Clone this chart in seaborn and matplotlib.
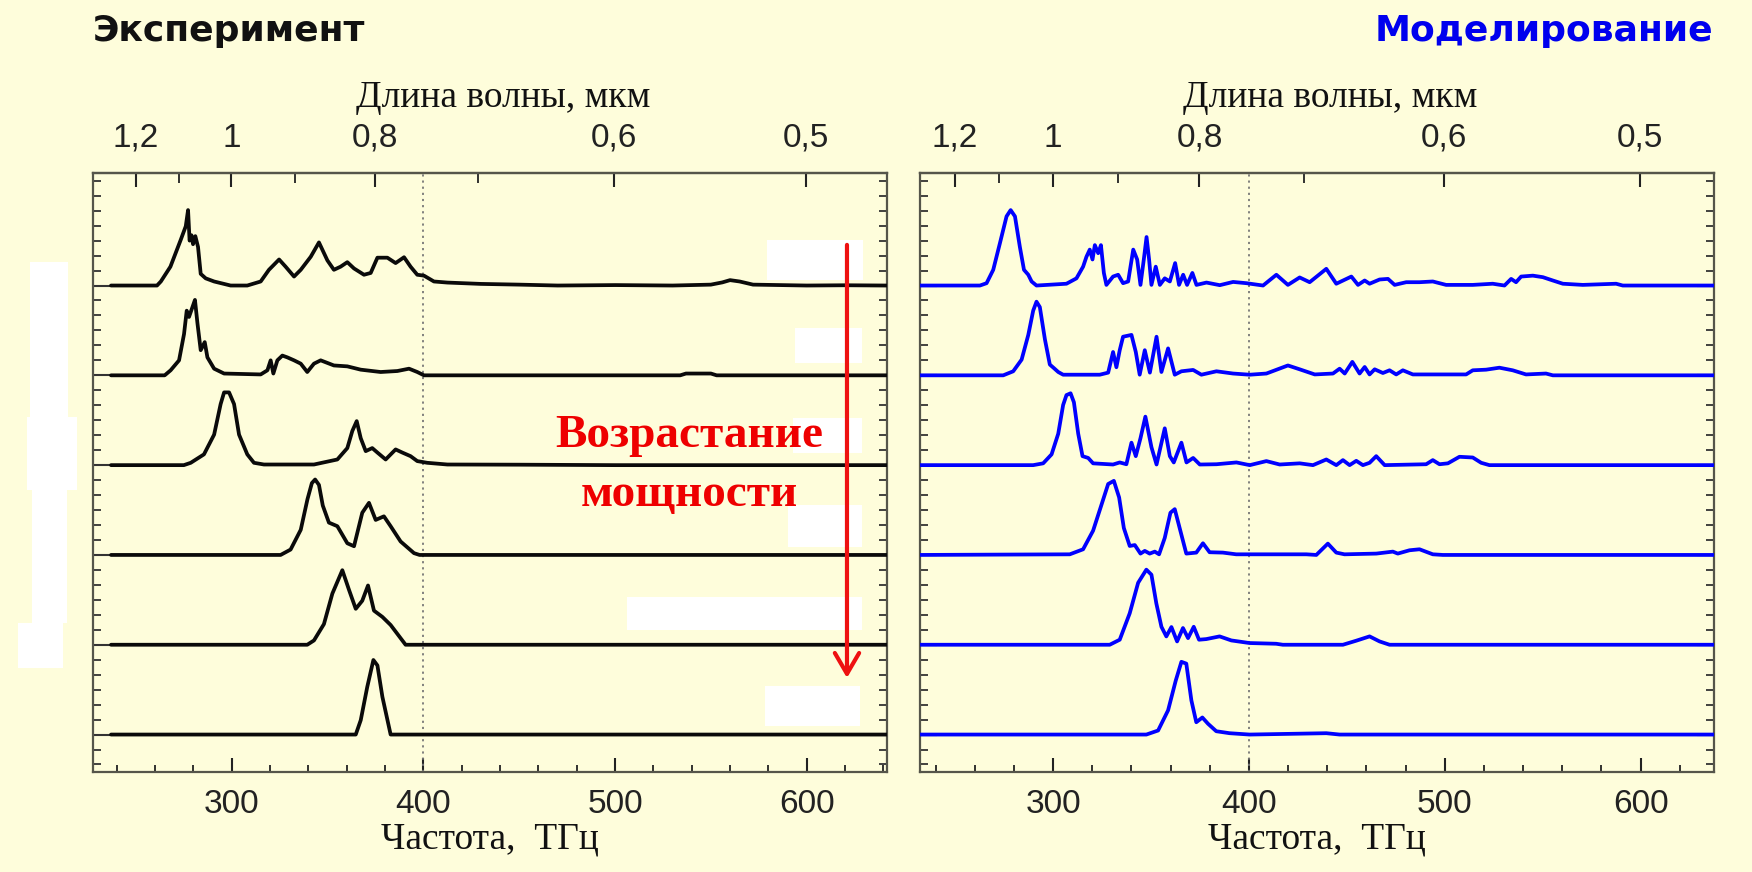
import numpy as np
import pandas as pd
import matplotlib
matplotlib.use("Agg")
import matplotlib.pyplot as plt
from matplotlib.patches import Rectangle
from matplotlib.ticker import MultipleLocator, FixedLocator
import seaborn as sns

# ---------------- data (frequency THz, normalised intensity) ----------------
exp1 = [(237, 0), (261, 0), (263, 0.045), (268, 0.21), (273.4, 0.51), (276, 0.66), (277.2, 0.84),
        (278.0, 0.50), (279.0, 0.56), (279.8, 0.46), (281.0, 0.55), (282.4, 0.43), (283.8, 0.13),
        (286.4, 0.08), (290.8, 0.045), (299.4, 0.0), (308.1, 0.0), (315.1, 0.045), (319.4, 0.175),
        (324.7, 0.29), (328.1, 0.21), (332.5, 0.10), (336.0, 0.175), (341.2, 0.32), (345.5, 0.48),
        (349.9, 0.28), (353.3, 0.175), (356.8, 0.21), (360.3, 0.26), (363.8, 0.19), (369.0, 0.12),
        (372.5, 0.14), (376.0, 0.31), (381.2, 0.31), (385.5, 0.25), (389.9, 0.315), (393.3, 0.21),
        (396.8, 0.12), (400.3, 0.11), (405.5, 0.045), (412.5, 0.033), (430, 0.018), (450, 0.01),
        (470, 0.0), (500, 0.005), (530, 0.0), (550, 0.01), (556, 0.035), (560, 0.06), (565, 0.045),
        (572, 0.01), (600, 0.0), (620, 0.003), (642, 0.0)]
exp2 = [(237, 0), (265, 0), (268.1, 0.056), (272.5, 0.167), (275.1, 0.46), (276.5, 0.72), (277.7, 0.65),
        (279.5, 0.76), (280.8, 0.84), (282.1, 0.58), (283.8, 0.28), (285.9, 0.37), (287.3, 0.20),
        (290.8, 0.074), (296.0, 0.02), (315.1, 0.01), (318.6, 0.056), (320.3, 0.167), (321.7, 0.02),
        (323.8, 0.167), (326.4, 0.22), (329.0, 0.20), (332.5, 0.167), (336.0, 0.13), (339.4, 0.037),
        (342.9, 0.13), (346.4, 0.167), (353.3, 0.11), (360.3, 0.10), (367.3, 0.063), (377.7, 0.037),
        (386.4, 0.048), (392.5, 0.074), (396.8, 0.037), (400.3, 0.0), (450, 0.0), (534, 0.0),
        (537, 0.02), (550, 0.02), (553, 0.0), (642, 0.0)]
exp3 = [(237, 0), (275, 0), (278.6, 0.026), (285.5, 0.12), (290.8, 0.34), (294.2, 0.68), (296.0, 0.81),
        (298.6, 0.81), (301.2, 0.68), (303.8, 0.34), (308.1, 0.12), (311.6, 0.026), (316.8, 0.007),
        (342.9, 0.007), (355.1, 0.063), (360.3, 0.19), (362.9, 0.38), (365.2, 0.49), (367.3, 0.30),
        (369.9, 0.156), (373.3, 0.19), (376.0, 0.14), (380.3, 0.063), (385.5, 0.175), (389.0, 0.14),
        (393.3, 0.10), (396.8, 0.045), (402.0, 0.026), (412.5, 0.007), (450, 0.005), (500, 0.0), (642, 0.0)]
exp4 = [(237, 0), (325.5, 0), (330.7, 0.06), (336.0, 0.28), (339.5, 0.62), (341.8, 0.80), (343.5, 0.84),
        (345.5, 0.78), (347.5, 0.55), (350.7, 0.36), (355.1, 0.32), (360.3, 0.13), (363.8, 0.097),
        (368.1, 0.47), (371.6, 0.58), (375.1, 0.39), (379.4, 0.43), (382.9, 0.32), (388.1, 0.15),
        (395.1, 0.02), (398, 0.0), (642, 0.0)]
exp5 = [(237, 0), (339.4, 0), (342.9, 0.048), (348.1, 0.23), (352.5, 0.57), (357.7, 0.83), (361.2, 0.61),
        (364.7, 0.40), (368.1, 0.49), (371.1, 0.66), (374.2, 0.38), (378.6, 0.31), (382.9, 0.22),
        (390.7, 0.0), (642, 0.0)]
exp6 = [(237, 0), (364.7, 0), (367.3, 0.16), (370.7, 0.53), (373.9, 0.83), (376.0, 0.77), (378.6, 0.42),
        (382.9, 0.0), (642, 0.0)]

mod1 = [(232, 0), (262.6, 0), (266.0, 0.026), (269.4, 0.175), (272.8, 0.47), (276.2, 0.77), (278.3, 0.84),
        (280.5, 0.77), (283.0, 0.43), (285.1, 0.175), (287.3, 0.12), (289.0, 0.045), (291.5, 0.0),
        (306.8, 0.02), (311.9, 0.08), (315.3, 0.21), (317.0, 0.32), (318.7, 0.40), (320.1, 0.29),
        (321.3, 0.45), (323.0, 0.36), (324.4, 0.45), (325.9, 0.14), (327.2, 0.007), (330.6, 0.10),
        (333.2, 0.12), (335.7, 0.026), (338.3, 0.045), (340.9, 0.40), (342.9, 0.29), (344.6, 0.007),
        (346.3, 0.29), (347.7, 0.54), (349.0, 0.29), (350.2, 0.007), (352.4, 0.21), (354.5, 0.007),
        (357.0, 0.08), (359.6, 0.045), (362.3, 0.25), (364.3, 0.007), (366.4, 0.12), (368.4, 0.007),
        (371.1, 0.14), (373.2, 0.007), (378.3, 0.033), (385.1, 0.004), (391.9, 0.04), (398.7, 0.026),
        (407.2, 0.0), (414.0, 0.12), (419.9, 0.007), (425.9, 0.09), (431.0, 0.037), (439.5, 0.186),
        (444.6, 0.02), (452.3, 0.10), (455.7, 0.007), (459.1, 0.056), (461.6, 0.02), (466.7, 0.067),
        (471.0, 0.074), (474.4, 0.007), (480.3, 0.037), (487.1, 0.037), (493.9, 0.045), (500.7, 0.007),
        (514.3, 0.007), (524.5, 0.02), (530.5, 0.0), (533.9, 0.074), (536.4, 0.037), (539.0, 0.10),
        (545.0, 0.11), (550.1, 0.093), (555.2, 0.056), (560.3, 0.02), (570.5, 0.007), (587.5, 0.02),
        (590.9, 0.0), (638, 0.0)]
mod2 = [(232, 0), (274.5, 0), (279.6, 0.045), (283.9, 0.175), (287.3, 0.45), (289.8, 0.72), (291.5, 0.82),
        (293.2, 0.76), (295.8, 0.40), (298.3, 0.12), (300.4, 0.08), (302.6, 0.037), (305.1, 0.007),
        (323.8, 0.007), (328.1, 0.03), (330.6, 0.26), (332.3, 0.09), (334.0, 0.28), (335.7, 0.43),
        (340.0, 0.45), (342.2, 0.26), (344.2, 0.007), (346.8, 0.28), (349.4, 0.03), (352.8, 0.43),
        (355.3, 0.037), (358.7, 0.30), (362.1, 0.007), (365.5, 0.045), (371.5, 0.06), (375.7, 0.007),
        (383.4, 0.045), (391.9, 0.02), (400.4, 0.007), (408.9, 0.02), (419.9, 0.11), (425.9, 0.067),
        (433.6, 0.01), (442.9, 0.02), (446.3, 0.074), (448.9, 0.02), (452.8, 0.15), (456.5, 0.02),
        (459.1, 0.093), (461.6, 0.01), (464.2, 0.067), (468.4, 0.026), (471.8, 0.056), (475.2, 0.01),
        (478.6, 0.056), (483.7, 0.01), (510.9, 0.01), (514.3, 0.056), (521.1, 0.063), (527.9, 0.085),
        (534.7, 0.056), (541.5, 0.01), (551.7, 0.02), (555.2, 0.0), (638, 0.0)]
mod3 = [(232, 0), (289.8, 0), (294.9, 0.02), (299.2, 0.12), (302.6, 0.35), (305.1, 0.67), (306.8, 0.78),
        (308.9, 0.80), (310.6, 0.70), (312.8, 0.35), (315.0, 0.10), (317.9, 0.08), (320.4, 0.02),
        (330.6, 0.007), (334.0, 0.03), (337.4, 0.01), (340.0, 0.25), (342.2, 0.10), (344.6, 0.30),
        (347.1, 0.54), (350.2, 0.20), (352.8, 0.007), (357.0, 0.41), (359.6, 0.10), (361.6, 0.03),
        (365.5, 0.25), (368.1, 0.03), (371.5, 0.08), (374.9, 0.007), (383.4, 0.01), (393.6, 0.03),
        (400.4, 0.0), (408.9, 0.045), (415.7, 0.007), (425.9, 0.02), (432.7, 0.0), (439.5, 0.063),
        (444.6, 0.0), (448.0, 0.056), (451.4, 0.0), (454.8, 0.048), (458.2, 0.0), (461.6, 0.026),
        (465.0, 0.10), (469.3, 0.0), (490.5, 0.01), (493.9, 0.056), (497.3, 0.01), (501.6, 0.02),
        (507.5, 0.093), (514.3, 0.085), (518.6, 0.026), (522.8, 0.0), (638, 0.0)]
mod4 = [(232, 0), (308.5, 0.007), (315.3, 0.063), (320.4, 0.27), (324.7, 0.56), (328.1, 0.79),
        (331.0, 0.825), (333.7, 0.64), (336.1, 0.30), (339.1, 0.10), (341.7, 0.11), (344.6, 0.015),
        (346.8, 0.045), (349.3, 0.015), (351.9, 0.037), (354.1, 0.007), (357.0, 0.19), (359.9, 0.47),
        (362.1, 0.51), (364.6, 0.30), (368.0, 0.015), (373.1, 0.026), (376.5, 0.13), (379.9, 0.03),
        (386.7, 0.026), (393.5, 0.007), (429.3, 0.007), (434.4, 0.0), (440.3, 0.126), (444.6, 0.026),
        (448.8, 0.007), (465.0, 0.015), (473.5, 0.037), (476.0, 0.015), (482.0, 0.052), (487.1, 0.063),
        (493.9, 0.007), (499.0, 0.0), (638, 0.0)]
mod5 = [(232, 0), (328.9, 0), (334.0, 0.056), (339.1, 0.35), (343.4, 0.69), (347.6, 0.836), (350.2, 0.78),
        (352.7, 0.46), (355.3, 0.20), (357.8, 0.093), (360.4, 0.197), (363.3, 0.037), (366.3, 0.186),
        (368.9, 0.074), (371.8, 0.20), (374.5, 0.056), (378.2, 0.063), (385.0, 0.093), (391.0, 0.048),
        (400.3, 0.019), (413.9, 0.011), (417.3, 0.0), (448.0, 0.0), (454.8, 0.045), (461.6, 0.093),
        (466.7, 0.037), (471.8, 0.0), (638, 0.0)]
mod6 = [(232, 0), (347.6, 0), (353.6, 0.045), (358.7, 0.27), (362.6, 0.60), (365.5, 0.81), (368.0, 0.79),
        (370.6, 0.38), (373.1, 0.137), (376.2, 0.19), (379.1, 0.12), (383.3, 0.037), (390.1, 0.015),
        (400.3, 0.0), (439.5, 0.015), (446.3, 0.0), (638, 0.0)]

exp_traces = [exp1, exp2, exp3, exp4, exp5, exp6]      # top -> bottom (increasing power)
mod_traces = [mod1, mod2, mod3, mod4, mod5, mod6]

wl_ticks = [1.2, 1.0, 0.8, 0.6, 0.5]
wl_labels = ["1,2", "1", "0,8", "0,6", "0,5"]
wl_minor = [1.1, 0.9, 0.7]
freq_ticks = [300, 400, 500, 600]

# ---------------- style ----------------
W, H = 1752, 872
BG = "#FEFDDB"
sns.set_theme(style="ticks")
plt.rcParams["font.family"] = ["Liberation Sans", "DejaVu Sans"]
plt.rcParams["axes.facecolor"] = "none"
plt.rcParams["figure.facecolor"] = BG

fig = plt.figure(figsize=(W / 100, H / 100), dpi=100)
fig.patch.set_facecolor(BG)

ax_l = fig.add_axes([93 / W, 1 - 772 / H, 794 / W, 599 / H])
ax_r = fig.add_axes([920 / W, 1 - 772 / H, 794 / W, 599 / H])

SPINE = "#55554a"


def f2l(f):
    f = np.asarray(f, dtype=float)
    with np.errstate(divide="ignore", invalid="ignore"):
        return 299.792458 / f


def style_axes(ax, xlim):
    ax.set_xlim(*xlim)
    ax.set_ylim(-0.417, 6.253)
    ax.set_facecolor("none")
    for s in ax.spines.values():
        s.set_visible(True)
        s.set_color(SPINE)
        s.set_linewidth(1.6)
    ax.set_xticks(freq_ticks)
    ax.set_xticklabels([str(v) for v in freq_ticks])
    ax.xaxis.set_minor_locator(MultipleLocator(20))
    ax.set_yticks(range(6))
    ax.yaxis.set_minor_locator(MultipleLocator(1 / 6))
    ax.tick_params(axis="x", which="both", direction="in", top=False, bottom=True,
                   colors="#222222", labelsize=24, pad=12)
    ax.tick_params(axis="x", which="major", length=10, width=1.5)
    ax.tick_params(axis="x", which="minor", length=5, width=1.3)
    ax.tick_params(axis="y", which="both", direction="in", left=True, right=True,
                   labelleft=False, colors="#333333")
    ax.tick_params(axis="y", which="major", length=12, width=1.5)
    ax.tick_params(axis="y", which="minor", length=6, width=1.3)
    ax.set_xlabel("")
    ax.set_ylabel("")
    ax.axvline(400, color="#777777", lw=1.3, ls=(0, (1.2, 2.2)), zorder=1)

    sec = ax.secondary_xaxis("top", functions=(f2l, f2l))
    sec.xaxis.set_major_locator(FixedLocator(wl_ticks))
    sec.set_xticklabels(wl_labels)
    sec.xaxis.set_minor_locator(FixedLocator(wl_minor))
    sec.tick_params(axis="x", which="both", direction="in", colors="#222222",
                    labelsize=24, pad=14)
    sec.tick_params(axis="x", which="major", length=10, width=1.5)
    sec.tick_params(axis="x", which="minor", length=7, width=1.3)
    sec.spines["top"].set_color(SPINE)
    sec.spines["top"].set_linewidth(1.6)

    ax.text(0.517, 1.125, "Длина волны, мкм", transform=ax.transAxes, ha="center",
            va="center", fontsize=27, family=["Liberation Serif", "DejaVu Serif"], color="#111111")
    ax.text(0.50, -0.113, "Частота,  ТГц", transform=ax.transAxes, ha="center",
            va="center", fontsize=27, family=["Liberation Serif", "DejaVu Serif"], color="#111111")


def draw(ax, traces, color):
    n = len(traces)
    for i, tr in enumerate(traces):
        df = pd.DataFrame(tr, columns=["freq", "val"])
        df["val"] = df["val"] + (n - 1 - i)
        sns.lineplot(data=df, x="freq", y="val", ax=ax, color=color, lw=2.7,
                     estimator=None, sort=False, zorder=3)


style_axes(ax_l, (227.6, 641.9))
style_axes(ax_r, (232.0, 637.5))
draw(ax_l, exp_traces, "#0a0a0a")
draw(ax_r, mod_traces, "#0000FF")
for ax in (ax_l, ax_r):
    ax.set_xlabel("")
    ax.set_ylabel("")

# panel titles
fig.text(93 / W, 1 - 31 / H, "Эксперимент", ha="left", va="center", fontsize=26,
         fontweight="bold", family=["DejaVu Sans"], color="#111111")
fig.text(1713 / W, 1 - 31 / H, "Моделирование", ha="right", va="center", fontsize=26,
         fontweight="bold", family=["DejaVu Sans"], color="#0000EE")

# red annotation
ax_l.annotate("", xy=(0.9496, 0.157), xytext=(0.9496, 0.88), xycoords="axes fraction",
              arrowprops=dict(arrowstyle="->,head_length=0.6,head_width=0.35", color="#EE1111",
                              lw=3, mutation_scale=25, shrinkA=0, shrinkB=0), zorder=6)
for txt, yy in (("Возрастание", 0.561), ("мощности", 0.462)):
    ax_l.text(0.7506, yy, txt, transform=ax_l.transAxes, ha="center", va="center",
              fontsize=34, fontweight="bold", color="#EE0000",
              family=["Liberation Serif", "DejaVu Serif"], zorder=6)

# white erased patches from the original slide
white_patches = [(30, 262, 68, 417), (27, 417, 77, 490), (32, 490, 67, 623), (18, 623, 63, 668),
                 (767, 240, 863, 280), (795, 328, 862, 363), (793, 418, 862, 453),
                 (788, 505, 862, 547), (627, 597, 862, 630), (765, 686, 860, 726)]
for x0, y0, x1, y1 in white_patches:
    fig.add_artist(Rectangle((x0 / W, 1 - y1 / H), (x1 - x0) / W, (y1 - y0) / H,
                             transform=fig.transFigure, facecolor="white",
                             edgecolor="none", zorder=-1))

fig.savefig("out.png", dpi=100, facecolor=BG)
